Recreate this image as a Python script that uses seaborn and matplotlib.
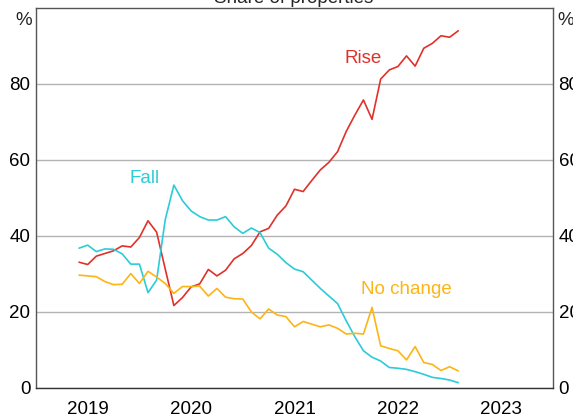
import numpy as np
import pandas as pd
import matplotlib
matplotlib.use("Agg")
import matplotlib.pyplot as plt
from matplotlib.ticker import FixedLocator, NullFormatter, FixedFormatter
import seaborn as sns

# ---- data ----
months = pd.date_range("2019-06-01", "2023-02-01", freq="MS")
rise = [33.1, 32.5, 34.7, 35.4, 36.1, 37.4, 37.1, 39.6, 44.0, 41.0,
        31.3, 21.7, 23.8, 26.6, 27.4, 31.2, 29.5, 31.0, 34.0, 35.4,
        37.5, 41.1, 42.0, 45.5, 47.9, 52.3, 51.7, 54.6, 57.4, 59.4,
        62.2, 67.5, 71.8, 75.8, 70.7, 81.3, 83.7, 84.6, 87.4, 84.7,
        89.4, 90.7, 92.7, 92.3, 94.0]
fall = [36.8, 37.6, 35.9, 36.6, 36.5, 35.3, 32.6, 32.6, 25.1, 28.4,
        44.3, 53.4, 49.3, 46.6, 45.1, 44.2, 44.2, 45.1, 42.4, 40.7,
        42.1, 40.9, 36.8, 35.2, 33.0, 31.3, 30.6, 28.4, 26.2, 24.2,
        22.2, 17.7, 13.5, 9.8, 8.1, 7.1, 5.4, 5.2, 4.9, 4.3,
        3.6, 2.8, 2.5, 2.1, 1.4]
no_change = [29.7, 29.5, 29.3, 28.0, 27.2, 27.3, 30.1, 27.5, 30.7, 29.2,
             27.5, 24.9, 26.7, 26.7, 26.8, 24.2, 26.2, 23.9, 23.5, 23.4,
             20.0, 18.2, 20.8, 19.2, 18.8, 16.1, 17.5, 16.8, 16.1, 16.6,
             15.7, 14.2, 14.4, 14.2, 21.2, 11.1, 10.4, 9.8, 7.4, 10.9,
             6.7, 6.2, 4.6, 5.6, 4.5]
series_names = ["Rise", "Fall", "No change"]
colors = ["#E0312A", "#2CCBD8", "#FDB515"]
year_ticks = [2019, 2020, 2021, 2022, 2023, 2024]
year_labels = ["2019", "2020", "2021", "2022", "2023"]
y_ticks = [0, 20, 40, 60, 80]

# ---- frame ----
decimal_year = months.year + (months.month - 1) / 12.0
df = pd.DataFrame({
    "x": np.tile(decimal_year, 3),
    "value": rise + fall + no_change,
    "series": np.repeat(series_names, len(months)),
})

sns.set_style("white")
plt.rcParams["font.family"] = ["Liberation Sans", "DejaVu Sans"]
FS = 13.5

fig = plt.figure(figsize=(5.73, 4.16), dpi=100)
ax = fig.add_axes([36 / 573, 28 / 416, 517 / 573, 380 / 416])

sns.lineplot(data=df, x="x", y="value", hue="series", hue_order=series_names,
             palette=colors, linewidth=1.2, legend=False, ax=ax)

ax.set_xlim(2019, 2024)
ax.set_ylim(0, 100)
ax.set_xlabel("")
ax.set_ylabel("")

# gridlines
ax.set_yticks(y_ticks)
ax.set_yticklabels([str(v) for v in y_ticks])
ax.yaxis.grid(True, color="#b3b3b3", linewidth=1.0)
ax.xaxis.grid(False)
ax.set_axisbelow(True)

ax.tick_params(axis="y", which="both", length=0, labelsize=FS,
               labelleft=True, labelright=True, pad=4, colors="black")

# x ticks
ax.xaxis.set_major_locator(FixedLocator(year_ticks))
ax.xaxis.set_major_formatter(NullFormatter())
ax.xaxis.set_minor_locator(FixedLocator([y + 0.5 for y in year_ticks[:-1]]))
ax.xaxis.set_minor_formatter(FixedFormatter(year_labels))
ax.tick_params(axis="x", which="major", direction="in", length=6,
               width=1.0, color="#555555")
ax.tick_params(axis="x", which="minor", length=0, pad=9.5, labelsize=FS,
               labelcolor="black")

for s in ax.spines.values():
    s.set_visible(True)
    s.set_color("#555555")
    s.set_linewidth(1.0)
ax.spines["bottom"].set_color("#333333")

# % labels
ax.text(-0.008, 0.99, "%", transform=ax.transAxes, ha="right", va="top",
        fontsize=FS)
ax.text(1.008, 0.99, "%", transform=ax.transAxes, ha="left", va="top",
        fontsize=FS)

# series labels
ax.text(2022.16, 86.6, "Rise", color=colors[0], fontsize=FS,
        ha="center", va="center")
ax.text(2020.05, 55.0, "Fall", color=colors[1], fontsize=FS,
        ha="center", va="center")
ax.text(2022.585, 26.0, "No change", color=colors[2], fontsize=FS,
        ha="center", va="center")

# title (cropped at top in the reference)
fig.text(294 / 573, 1 - 3 / 416, "Share of properties", ha="center",
         va="baseline", fontsize=FS)

fig.savefig("out.png", dpi=100)
